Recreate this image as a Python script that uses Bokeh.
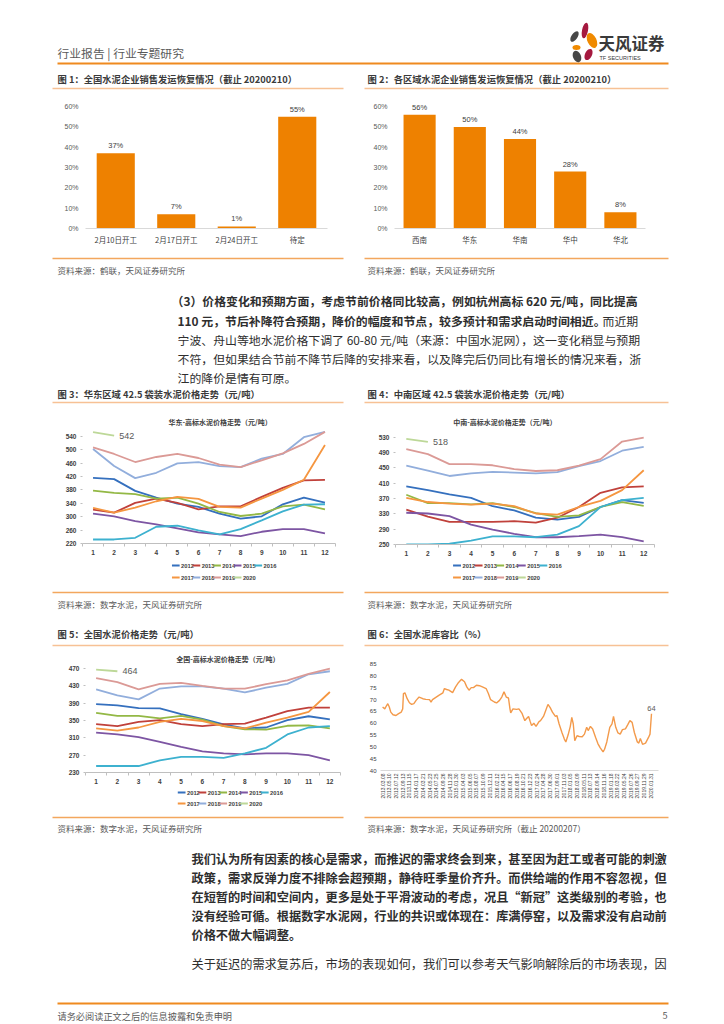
import math
from bokeh.plotting import figure
from bokeh.layouts import column, row
from bokeh.models import (Range1d, FactorRange, FixedTicker, PrintfTickFormatter,
                          ColumnDataSource)
from bokeh.core.properties import value
from bokeh.embed import file_html
from bokeh.resources import INLINE

# ------------------------------------------------------------------ data
fig1_categories = ["2月10日开工", "2月17日开工", "2月24日开工", "待定"]
fig1_values = [37, 7, 1, 55]

fig2_categories = ["西南", "华东", "华南", "华中", "华北"]
fig2_values = [56, 50, 44, 28, 8]

bar_ticks = [0, 10, 20, 30, 40, 50, 60]

months = [1, 2, 3, 4, 5, 6, 7, 8, 9, 10, 11, 12]
years = ["2012", "2013", "2014", "2015", "2016", "2017", "2018", "2019", "2020"]

# 华东-高标水泥价格走势（元/吨）
east_2012 = [416, 412, 377, 357, 339, 329, 309, 294, 301, 337, 357, 342]
east_2013 = [321, 312, 341, 354, 341, 322, 331, 331, 359, 386, 408, 410]
east_2014 = [378, 371, 367, 354, 357, 339, 314, 302, 309, 331, 336, 322]
east_2015 = [309, 301, 287, 277, 265, 253, 247, 242, 255, 263, 263, 250]
east_2016 = [232, 232, 237, 270, 273, 259, 247, 263, 289, 316, 336, 337]
east_2017 = [326, 312, 327, 346, 359, 353, 329, 327, 354, 380, 410, 514]
east_2018 = [502, 451, 415, 431, 459, 463, 451, 448, 473, 487, 537, 553]
east_2019 = [507, 487, 463, 478, 487, 475, 455, 448, 468, 489, 517, 553]
east_2020 = [552, 542]
east_ticks = [220, 260, 300, 340, 380, 420, 460, 500, 540]

# 中南-高标水泥价格走势（元/吨）
central_2012 = [402, 392, 381, 372, 350, 339, 320, 315, 322, 348, 366, 359]
central_2013 = [341, 323, 309, 309, 309, 311, 307, 320, 348, 385, 399, 402]
central_2014 = [380, 358, 358, 355, 358, 348, 332, 322, 326, 348, 361, 351]
central_2015 = [333, 331, 324, 302, 289, 278, 269, 269, 272, 276, 269, 258]
central_2016 = [250, 250, 252, 260, 271, 271, 269, 276, 298, 348, 366, 372]
central_2017 = [372, 361, 357, 354, 357, 350, 331, 328, 348, 364, 392, 444]
central_2018 = [456, 443, 429, 436, 440, 438, 436, 439, 455, 468, 495, 505]
central_2019 = [499, 486, 460, 460, 457, 447, 442, 444, 456, 473, 519, 529]
central_2020 = [526, 518]
central_ticks = [250, 290, 330, 370, 410, 450, 490, 530]

# 全国-高标水泥价格走势（元/吨）
national_2012 = [388, 385, 379, 378, 365, 354, 341, 332, 334, 351, 360, 353]
national_2013 = [342, 337, 347, 351, 342, 337, 342, 343, 357, 372, 380, 380]
national_2014 = [368, 361, 361, 355, 361, 352, 337, 330, 329, 338, 339, 332]
national_2015 = [322, 318, 312, 301, 289, 279, 274, 272, 274, 274, 270, 258]
national_2016 = [245, 245, 245, 258, 266, 266, 264, 274, 287, 318, 334, 337]
national_2017 = [332, 327, 334, 347, 354, 349, 337, 332, 345, 357, 370, 416]
national_2018 = [422, 408, 399, 424, 429, 429, 424, 415, 426, 435, 457, 464]
national_2019 = [448, 439, 422, 435, 437, 430, 424, 424, 434, 443, 458, 470]
national_2020 = [468, 464]
national_ticks = [230, 270, 310, 350, 390, 430, 470]

# 全国水泥库容比（%），周度（第 n 周，自 2013.03.08 起）
stock_week = [0, 3, 5, 7, 9, 11, 14, 18, 21, 25, 27, 28, 30, 33, 36, 39, 42, 45, 49,
              54, 58, 63, 65, 67, 72, 76, 81, 83, 86, 89, 94, 98, 102, 106, 110, 113,
              116, 119, 122, 126, 130, 134, 139, 142, 145, 150, 153, 157, 160, 163,
              166, 169, 171, 172, 175, 180, 183, 187, 191, 193, 196, 198, 200, 203,
              206, 210, 212, 216, 219, 222, 225, 228, 232, 234, 237, 241, 244, 246,
              249, 252, 254, 256, 258, 261, 264, 268, 271, 274, 276, 279, 282, 286,
              289, 292, 296, 298, 301, 305, 308, 310, 313, 316, 319, 322, 326, 329,
              332, 335, 338, 342, 344, 346, 349, 353, 357, 359, 361]
stock_ratio = [66.9, 66.1, 67.3, 68.3, 66.9, 64.7, 63.6, 63.3, 64.0, 64.7, 66.1, 72.6,
               72.9, 70.4, 68.7, 68.0, 68.3, 69.7, 71.1, 70.4, 70.1, 70.0, 69.0, 70.0,
               71.1, 71.9, 72.9, 74.7, 74.3, 74.0, 73.0, 75.4, 77.3, 78.6, 77.6, 75.4,
               74.0, 75.1, 75.1, 76.1, 75.9, 75.4, 74.7, 72.6, 70.0, 69.0, 68.6, 69.7,
               71.1, 73.3, 71.1, 70.7, 66.1, 64.4, 66.1, 65.9, 66.1, 64.3, 61.1, 61.9,
               62.9, 60.9, 59.0, 60.0, 58.7, 60.7, 61.1, 62.9, 65.4, 68.0, 66.6, 64.7,
               62.9, 63.3, 59.7, 55.9, 53.3, 52.1, 55.0, 58.7, 62.5, 59.7, 52.6, 54.7,
               54.4, 54.3, 55.4, 58.3, 56.9, 58.7, 57.6, 54.0, 51.4, 49.7, 47.9, 49.0,
               52.1, 58.3, 59.7, 62.9, 58.3, 55.9, 55.4, 57.3, 57.6, 59.3, 61.1, 60.4,
               56.1, 52.1, 51.6, 53.6, 51.1, 51.6, 54.0, 55.4, 64.0]
stock_ticks = [40, 45, 50, 55, 60, 65, 70, 75, 80, 85]
stock_label_weeks = [0, 9, 18, 27, 36, 45, 54, 63, 72, 81, 90, 99, 108, 117, 126, 135,
                     144, 153, 162, 171, 180, 189, 198, 207, 216, 225, 234, 243, 252,
                     261, 270, 279, 288, 297, 306, 315, 324, 333, 342, 351, 360]
stock_date_labels = ["2013.03.08", "2013.05.10", "2013.07.12", "2013.09.13", "2013.11.15",
                     "2014.01.17", "2014.03.21", "2014.05.23", "2014.07.25", "2014.09.26",
                     "2014.11.28", "2015.01.30", "2015.04.03", "2015.06.05", "2015.08.07",
                     "2015.10.09", "2015.12.11", "2016.02.12", "2016.04.15", "2016.06.17",
                     "2016.08.19", "2016.10.21", "2016.12.23", "2017.02.24", "2017.04.28",
                     "2017.06.30", "2017.09.01", "2017.11.03", "2018.01.05", "2018.03.09",
                     "2018.05.11", "2018.07.13", "2018.09.14", "2018.11.16", "2019.01.18",
                     "2019.03.22", "2019.05.24", "2019.07.26", "2019.09.27", "2019.11.29",
                     "2020.01.31"]

# ------------------------------------------------------------------ texts
header_text = "行业报告 | 行业专题研究"
logo_name = "天风证券"
logo_sub = "TF SECURITIES"
title1 = "图 1：全国水泥企业销售发运恢复情况（截止 20200210）"
title2 = "图 2：各区域水泥企业销售发运恢复情况（截止 20200210）"
title3 = "图 3：华东区域 42.5 袋装水泥价格走势（元/吨）"
title4 = "图 4：中南区域 42.5 袋装水泥价格走势（元/吨）"
title5 = "图 5：全国水泥价格走势（元/吨）"
title6 = "图 6：全国水泥库容比（%）"
inner3 = "华东-高标水泥价格走势（元/吨）"
inner4 = "中南-高标水泥价格走势（元/吨）"
inner5 = "全国-高标水泥价格走势（元/吨）"
source12 = "资料来源：鹤联，天风证券研究所"
source345 = "资料来源：数字水泥，天风证券研究所"
source6 = "资料来源：数字水泥，天风证券研究所（截止 20200207）"
para3_bold = ["（3）价格变化和预期方面，考虑节前价格同比较高，例如杭州高标 620 元/吨，同比提高",
              "110 元，节后补降符合预期，降价的幅度和节点，较多预计和需求启动时间相近。"]
para3_tail = "而近期"
para3_rest = ["宁波、舟山等地水泥价格下调了 60-80 元/吨（来源：中国水泥网），这一变化稍显与预期",
              "不符，但如果结合节前不降节后降的安排来看，以及降完后仍同比有增长的情况来看，浙",
              "江的降价是情有可原。"]
para_bold = ["我们认为所有因素的核心是需求，而推迟的需求终会到来，甚至因为赶工或者可能的刺激",
             "政策，需求反弹力度不排除会超预期，静待旺季量价齐升。而供给端的作用不容忽视，但",
             "在短暂的时间和空间内，更多是处于平滑波动的考虑，况且“新冠”这类级别的考验，也",
             "没有经验可循。根据数字水泥网，行业的共识或体现在：库满停窑，以及需求没有启动前",
             "价格不做大幅调整。"]
para_last = "关于延迟的需求复苏后，市场的表现如何，我们可以参考天气影响解除后的市场表现，因"
footer_text = "请务必阅读正文之后的信息披露和免责申明"
page_number = "5"

# ------------------------------------------------------------------ styles
CJK = "Noto Sans CJK SC"
LAT = "Liberation Sans"
BAR_COLOR = "#EE8100"
ORANGE = "#EF8A1F"
TITLE_RULE = "#F7C195"
FOOT_RULE = "#F3A75E"
TITLE_TEXT = "#3A3A3A"
BODY = "#2E2E2E"
GREY = "#595959"
AXIS_TEXT = "#404040"
YEAR_COLORS = {"2012": "#3570BE", "2013": "#C0413B", "2014": "#93B845",
               "2015": "#7D55A3", "2016": "#3DB1CF", "2017": "#F59640",
               "2018": "#92AEDC", "2019": "#DB9A96", "2020": "#BDD898"}
PAGE_W = 722
LEFT_W = 362
RIGHT_W = PAGE_W - LEFT_W


def strip(x0, top, w, h):
    """A blank drawing area whose data units are page pixels."""
    p = figure(width=w, height=h, x_range=Range1d(x0, x0 + w),
               y_range=Range1d(top + h, top), x_axis_location=None, y_axis_location=None,
               min_border=0, output_backend="svg", toolbar_location=None, title=None)
    p.grid.visible = False
    p.outline_line_color = None
    return p


def txt(p, x, y, s, size, color=BODY, bold=False, font=CJK, align="left"):
    p.text(x=[x], y=[y], text=[s], text_font=value(font), text_font_size=f"{size}px",
           text_color=color, text_font_style="bold" if bold else "normal",
           text_align=align, text_baseline="middle")


def rule(p, x0, x1, y, color, w):
    p.segment(x0=[x0], y0=[y], x1=[x1], y1=[y], line_color=color, line_width=w)


def no_ticks(ax):
    ax.major_tick_line_color = None
    ax.minor_tick_line_color = None
    ax.major_tick_out = 0
    ax.major_tick_in = 0
    ax.minor_tick_out = 0
    ax.minor_tick_in = 0


def chart_fig(w, h, xr, yr, left, right, top, bottom):
    p = figure(width=w, height=h, x_range=xr, y_range=yr,
               min_border_left=left, min_border_right=right, min_border_top=top,
               min_border_bottom=bottom, output_backend="svg", toolbar_location=None,
               title=None)
    p.outline_line_color = None
    p.grid.visible = False
    return p


def bar_chart(cats, vals, w, h, left, right, top, bottom, bar_w):
    src = ColumnDataSource(dict(cat=cats, val=vals, lab=[f"{v}%" for v in vals]))
    p = chart_fig(w, h, FactorRange(factors=cats), Range1d(0, 62), left, right, top, bottom)
    p.vbar(x="cat", top="val", width=bar_w, source=src, fill_color=BAR_COLOR, line_color=None)
    p.text(x="cat", y="val", text="lab", source=src, text_align="center", text_baseline="bottom",
           y_offset=-3, text_font=value(LAT), text_font_size="7.5px", text_color=AXIS_TEXT)
    p.yaxis.ticker = FixedTicker(ticks=bar_ticks)
    p.yaxis.formatter = PrintfTickFormatter(format="%d%%")
    p.yaxis.axis_line_color = None
    no_ticks(p.yaxis[0])
    p.yaxis.major_label_standoff = 7
    p.yaxis.major_label_text_font = LAT
    p.yaxis.major_label_text_font_size = "7px"
    p.yaxis.major_label_text_color = GREY
    p.xaxis.axis_line_color = "#D9D9D9"
    no_ticks(p.xaxis[0])
    p.xaxis.major_label_standoff = 5
    p.xaxis.major_label_text_font = CJK
    p.xaxis.major_label_text_font_size = "7.5px"
    p.xaxis.major_label_text_color = AXIS_TEXT
    return p


def line_chart(series, w, h, yr, yticks, left, right, top, bottom):
    p = chart_fig(w, h, Range1d(0.5, 12.5), Range1d(*yr), left, right, top, bottom)
    for y in years:
        vals = series[y]
        p.line(months[:len(vals)], vals, line_color=YEAR_COLORS[y], line_width=1.8)
    last = series["2020"]
    p.text(x=[months[len(last) - 1]], y=[last[-1]], text=[str(last[-1])], x_offset=5,
           text_baseline="middle", text_font=value(LAT), text_font_size="9px", text_color=GREY)
    p.xaxis.ticker = FixedTicker(ticks=months, minor_ticks=[m - 0.5 for m in months] + [12.5])
    p.xaxis.axis_line_color = "#BFBFBF"
    p.xaxis.major_tick_line_color = None
    p.xaxis.major_tick_out = 0
    p.xaxis.major_tick_in = 0
    p.xaxis.minor_tick_line_color = "#BFBFBF"
    p.xaxis.minor_tick_out = 3
    p.xaxis.minor_tick_in = 0
    p.xaxis.major_label_standoff = 3
    p.xaxis.major_label_text_font = LAT
    p.xaxis.major_label_text_font_size = "6.5px"
    p.xaxis.major_label_text_font_style = "bold"
    p.xaxis.major_label_text_color = AXIS_TEXT
    p.yaxis.ticker = FixedTicker(ticks=yticks)
    p.yaxis.axis_line_color = None
    p.yaxis.major_tick_line_color = "#BFBFBF"
    p.yaxis.major_tick_out = 2
    p.yaxis.major_tick_in = 0
    p.yaxis.minor_tick_line_color = None
    p.yaxis.minor_tick_out = 0
    p.yaxis.minor_tick_in = 0
    p.yaxis.major_label_standoff = 4
    p.yaxis.major_label_text_font = LAT
    p.yaxis.major_label_text_font_size = "6.5px"
    p.yaxis.major_label_text_font_style = "bold"
    p.yaxis.major_label_text_color = AXIS_TEXT
    return p


def legend_strip(x0, top, w, h, start_x, row_y, pitch):
    """Two-row year legend drawn in page pixels: 5 items, then 4."""
    p = strip(x0, top, w, h)
    for i, y in enumerate(years):
        col, r = i % 5, i // 5
        lx = start_x + col * pitch
        ly = row_y[r]
        p.segment(x0=[lx], y0=[ly], x1=[lx + 11], y1=[ly], line_color=YEAR_COLORS[y],
                  line_width=2)
        p.text(x=[lx + 13], y=[ly], text=[y], text_font=value(LAT), text_font_size="5.8px",
               text_font_style="bold", text_color=AXIS_TEXT, text_baseline="middle")
    return p


def title_strip(x0, top, w, h, cx, cy, s):
    p = strip(x0, top, w, h)
    txt(p, cx, cy, s, 7, color=AXIS_TEXT, bold=True, align="center")
    return p


# ------------------------------------------------------------------ header strip
h1 = strip(0, 0, PAGE_W, 95)
txt(h1, 57, 52, header_text, 11.8, color=GREY)
rule(h1, 57, 668, 63, ORANGE, 2)
h1.ellipse(x=[584.5, 574, 591.5, 576, 576.5, 588], y=[30, 36, 40, 47, 56, 54],
           width=[6, 6, 9, 8, 8, 7], height=[16, 12, 16, 5, 12, 12],
           angle=[-0.2, -0.6, 0.45, 0, 0.4, -0.45],
           fill_color=["#A5193F", "#474747", "#F08A00", "#F08A00", "#474747", "#A5193F"],
           line_color=None)
txt(h1, 598, 42, logo_name, 16.5, color="#3A3A3A", bold=True)
txt(h1, 599, 57, logo_sub, 5.5, color="#3A3A3A", font=LAT)
txt(h1, 57, 78, title1, 9.3, color=TITLE_TEXT, bold=True)
txt(h1, 367, 78, title2, 9.3, color=TITLE_TEXT, bold=True)
rule(h1, 52, 343, 88, TITLE_RULE, 1.3)
rule(h1, 364, 668, 88, TITLE_RULE, 1.3)

# ------------------------------------------------------------------ row 1 (bars)
f1 = bar_chart(fig1_categories, fig1_values, LEFT_W, 155, 85, 35, 5, 20, 0.63)
f2 = bar_chart(fig2_categories, fig2_values, RIGHT_W, 155, 32, RIGHT_W - 283, 7, 22, 0.64)

# ------------------------------------------------------------------ strip 2
h2 = strip(0, 250, PAGE_W, 162)
rule(h2, 52, 343, 258, FOOT_RULE, 1.3)
rule(h2, 364, 668, 258, FOOT_RULE, 1.3)
txt(h2, 57, 269, source12, 8.5, color=GREY)
txt(h2, 367, 269, source12, 8.5, color=GREY)
txt(h2, 171, 300, para3_bold[0], 11.9, bold=True)
txt(h2, 177, 320, para3_bold[1], 11.9, bold=True)
txt(h2, 602, 320, para3_tail, 11.9)
for i, line in enumerate(para3_rest):
    txt(h2, 177, 339 + i * 19, line, 11.9)
txt(h2, 57, 393, title3, 9.3, color=TITLE_TEXT, bold=True)
txt(h2, 367, 393, title4, 9.3, color=TITLE_TEXT, bold=True)
rule(h2, 52, 343, 402, TITLE_RULE, 1.3)
rule(h2, 364, 668, 402, TITLE_RULE, 1.3)

# ------------------------------------------------------------------ row 2 (regional prices)
east = dict(zip(years, [east_2012, east_2013, east_2014, east_2015, east_2016,
                        east_2017, east_2018, east_2019, east_2020]))
central = dict(zip(years, [central_2012, central_2013, central_2014, central_2015,
                           central_2016, central_2017, central_2018, central_2019,
                           central_2020]))
national = dict(zip(years, [national_2012, national_2013, national_2014, national_2015,
                            national_2016, national_2017, national_2018, national_2019,
                            national_2020]))

t3 = title_strip(0, 412, LEFT_W, 17, 197, 421, inner3)
f3 = line_chart(east, LEFT_W, 129, (220, 560), east_ticks, 82, 27, 0, 15)
l3 = legend_strip(0, 558, LEFT_W, 31, 128, [565, 577], 29.5)

t4 = title_strip(LEFT_W, 412, RIGHT_W, 17, 514, 421, inner4)
f4 = line_chart(central, RIGHT_W, 129, (250, 540), central_ticks, 33, RIGHT_W - 292, 4, 14)
l4 = legend_strip(LEFT_W, 558, RIGHT_W, 31, 442, [565, 577], 30)

# ------------------------------------------------------------------ strip 3
h3 = strip(0, 589, PAGE_W, 59)
rule(h3, 52, 343, 592, FOOT_RULE, 1.3)
rule(h3, 364, 668, 592, FOOT_RULE, 1.3)
txt(h3, 57, 603, source345, 8.5, color=GREY)
txt(h3, 367, 603, source345, 8.5, color=GREY)
txt(h3, 57, 633, title5, 9.3, color=TITLE_TEXT, bold=True)
txt(h3, 367, 633, title6, 9.3, color=TITLE_TEXT, bold=True)
rule(h3, 52, 343, 645, TITLE_RULE, 1.3)
rule(h3, 364, 668, 645, TITLE_RULE, 1.3)

# ------------------------------------------------------------------ row 3
t5 = title_strip(0, 648, LEFT_W, 17, 202, 658, inner5)
f5 = line_chart(national, LEFT_W, 121, (230, 475), national_ticks, 85, 22, 1, 14)
l5 = legend_strip(0, 786, LEFT_W, 27, 131, [792, 803], 29.5)

f6 = chart_fig(RIGHT_W, 165, Range1d(-2.8, 370.4), Range1d(40, 87), 18, RIGHT_W - 296, 11, 43)
f6.line(stock_week, stock_ratio, line_color="#F39A4B", line_width=1.4)
f6.text(x=[stock_week[-1]], y=[stock_ratio[-1]], text=[f"{stock_ratio[-1]:.0f}"],
        y_offset=-3, text_align="center", text_baseline="bottom", text_font=value(LAT),
        text_font_size="7.5px", text_color=GREY)
f6.yaxis.ticker = FixedTicker(ticks=stock_ticks)
f6.yaxis.axis_line_color = None
no_ticks(f6.yaxis[0])
f6.yaxis.major_label_standoff = 4
f6.yaxis.major_label_text_font = LAT
f6.yaxis.major_label_text_font_size = "6px"
f6.yaxis.major_label_text_color = AXIS_TEXT
f6.xaxis.ticker = FixedTicker(ticks=stock_label_weeks)
f6.xaxis.major_label_overrides = dict(zip(stock_label_weeks, stock_date_labels))
f6.xaxis.major_label_orientation = math.pi / 2
f6.xaxis.axis_line_color = "#D9D9D9"
no_ticks(f6.xaxis[0])
f6.xaxis.major_label_standoff = 3
f6.xaxis.major_label_text_font = LAT
f6.xaxis.major_label_text_font_size = "5px"
f6.xaxis.major_label_text_color = AXIS_TEXT

# ------------------------------------------------------------------ strip 4
h4 = strip(0, 813, PAGE_W, 209)
rule(h4, 52, 343, 817, FOOT_RULE, 1.3)
rule(h4, 364, 668, 817, FOOT_RULE, 1.3)
txt(h4, 57, 827, source345, 8.5, color=GREY)
txt(h4, 367, 827, source6, 8.5, color=GREY)
for i, line in enumerate(para_bold):
    txt(h4, 191, 858 + i * 19.2, line, 12.2, bold=True)
txt(h4, 191, 963, para_last, 12.2)
rule(h4, 57, 668, 1003, ORANGE, 2)
txt(h4, 57, 1015, footer_text, 9.2, color=GREY)
txt(h4, 667, 1015, page_number, 9.2, color=GREY, align="right")

layout = column(
    h1,
    row(f1, f2, spacing=0),
    h2,
    row(column(t3, f3, l3, spacing=0), column(t4, f4, l4, spacing=0), spacing=0),
    h3,
    row(column(t5, f5, l5, spacing=0), f6, spacing=0),
    h4,
    spacing=0,
)

with open("out.html", "w", encoding="utf-8") as fh:
    fh.write(file_html(layout, INLINE, title="水泥行业专题研究"))
